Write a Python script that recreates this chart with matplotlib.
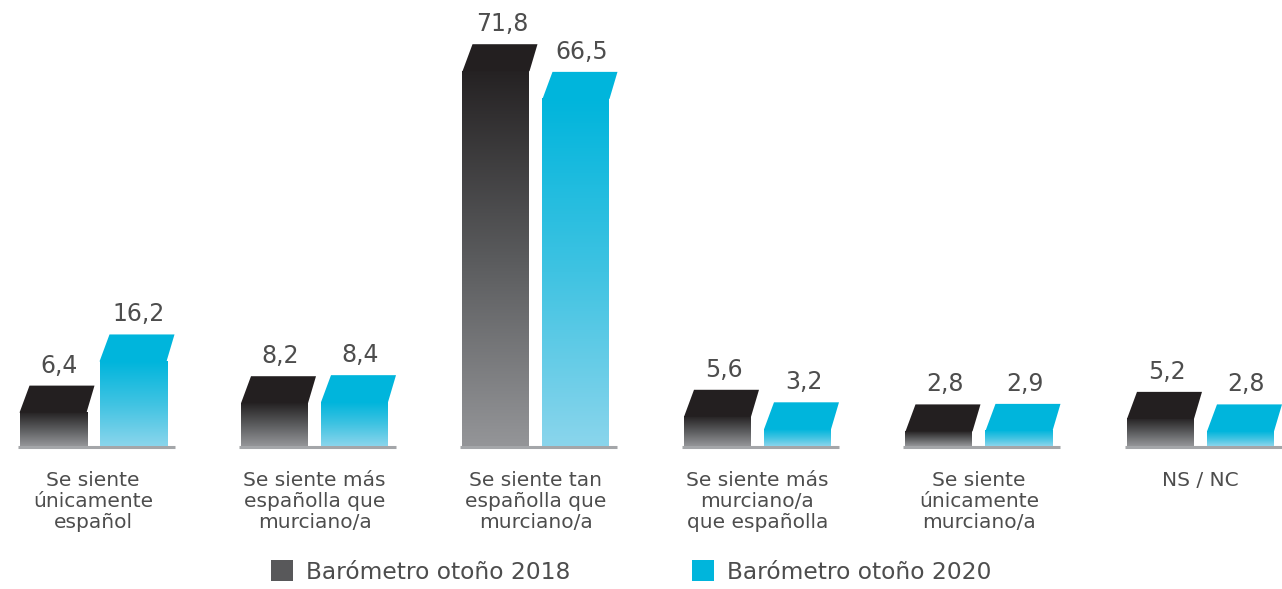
import numpy as np
import matplotlib.pyplot as plt
from matplotlib.colors import LinearSegmentedColormap
from matplotlib.patches import Polygon, Patch

plt.rcParams['font.family'] = ['DejaVu Sans']

categories = ['Se siente\núnicamente\nespañol',
              'Se siente más\nespañolla que\nmurciano/a',
              'Se siente tan\nespañolla que\nmurciano/a',
              'Se siente más\nmurciano/a\nque españolla',
              'Se siente\núnicamente\nmurciano/a',
              'NS / NC']
otono_2018 = [6.4, 8.2, 71.8, 5.6, 2.8, 5.2]
otono_2020 = [16.2, 8.4, 66.5, 3.2, 2.9, 2.8]
series_names = ['Barómetro otoño 2018', 'Barómetro otoño 2020']

text_col = '#4d4d4d'
top_cols = ['#231f20', '#00b5dc']
cmaps = [LinearSegmentedColormap.from_list('g18', ['#949598', '#5a5b5d', '#252223']),
         LinearSegmentedColormap.from_list('g20', ['#8ad5ec', '#3fc3e2', '#00b5dc'])]

fig = plt.figure(figsize=(12.82, 5.89), dpi=100)
ax = fig.add_axes([0, 0.219, 1, 0.781])

# px -> data conversion (x: 221.5 px per category, y: 5.22 px per unit)
xmin, xmax = -0.4199, 5.368
ymin, ymax = -2.68, 85.44
sx = 1282 / (xmax - xmin)
sy = 460 / (ymax - ymin)
bw = 67 / sx
gap = 6.5 / sx
grad = np.linspace(0, 1, 256).reshape(-1, 1)

for i, cat in enumerate(categories):
    for k, vals in enumerate([otono_2018, otono_2020]):
        v = vals[i]
        x0 = i - gap - bw if k == 0 else i + gap
        x1 = x0 + bw
        ax.imshow(grad, extent=(x0, x1, 0, v), origin='lower', cmap=cmaps[k],
                  aspect='auto', interpolation='bicubic', zorder=2)
        top = Polygon([(x0, v), (x1, v), (x1 + 8 / sx, v + 27 / sy),
                       (x0 + 10 / sx, v + 27 / sy)], closed=True,
                      facecolor=top_cols[k], edgecolor='none', zorder=3)
        ax.add_patch(top)
        ax.annotate(f'{v:.1f}'.replace('.', ','), xy=((x0 + x1) / 2, v),
                    xytext=(6, 40), textcoords='offset pixels',
                    ha='center', va='baseline', fontsize=17, color=text_col)
    # grey base line under each pair
    ax.plot([i - gap - bw - 2 / sx, i + gap + bw + 8 / sx], [-1 / sy, -1 / sy],
            color='#a4a6a9', lw=2.2, solid_capstyle='butt', zorder=1)
    ax.annotate(cat, xy=(i, 0), xytext=(0, -25), textcoords='offset pixels',
                ha='center', va='top', fontsize=14.5, color=text_col,
                linespacing=1.13)

ax.set_xlim(xmin, xmax)
ax.set_ylim(ymin, ymax)
ax.axis('off')

handles = [Patch(facecolor='#58585a', edgecolor='none'),
           Patch(facecolor='#00b5dc', edgecolor='none')]
fig.legend(handles, series_names, loc='center', ncol=2, frameon=False,
           bbox_to_anchor=(631 / 1282, 1 - 572 / 589), fontsize=16.8,
           labelcolor=text_col, handlelength=0.95, handleheight=0.95,
           handletextpad=0.55, columnspacing=5.2)

plt.savefig('out.png', dpi=100)
